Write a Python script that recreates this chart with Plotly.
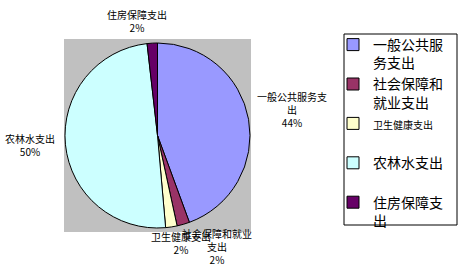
import plotly.graph_objects as go

categories = ["一般公共服务支出", "社会保障和就业支出", "卫生健康支出", "农林水支出", "住房保障支出"]
values = [44.4, 2.2, 2.0, 49.6, 1.8]
colors = ["#9999FF", "#993366", "#FFFFCC", "#CCFFFF", "#660066"]
legend_names = ["一般公共服<br>务支出", "社会保障和<br>就业支出",
                "<span style='font-size:10px'>卫生健康支出</span><br> ", "农林水支出<br> ", "住房保障支<br>出"]
label_text = ["一般公共服务支<br>出", "社会保障和就业<br>支出", "卫生健康支出", "农林水支出", "住房保障支出"]
# label centres in pixels (layout only)
label_pos = [(292, 110), (217, 246), (181, 243), (30, 145), (137, 21)]

W, H = 467, 266
total = sum(values)
pcts = [round(v / total * 100) for v in values]

fig = go.Figure()
fig.add_trace(go.Pie(
    labels=legend_names, values=values, sort=False, direction="clockwise", rotation=0,
    marker=dict(colors=colors, line=dict(color="black", width=1)),
    textinfo="none", hoverinfo="none",
    domain=dict(x=[65 / W, 250 / W], y=[(H - 228) / H, (H - 43) / H]),
))

annotations = []
for txt, p, (x, y) in zip(label_text, pcts, label_pos):
    annotations.append(dict(
        text=f"{txt}<br>{p}%", x=x / W, y=1 - y / H, xref="paper", yref="paper",
        showarrow=False, xanchor="center", yanchor="middle",
        font=dict(family="Noto Sans CJK SC", size=10, color="black"), align="center"))

fig.update_layout(
    width=W, height=H, margin=dict(l=0, r=0, t=0, b=0),
    paper_bgcolor="white", plot_bgcolor="white",
    shapes=[
        dict(type="rect", xref="paper", yref="paper", x0=64 / W, x1=251 / W,
             y0=1 - 232 / H, y1=1 - 39 / H, fillcolor="#C0C0C0", line=dict(width=0), layer="below"),
        dict(type="rect", xref="paper", yref="paper", x0=344 / W, x1=457 / W,
             y0=1 - 225 / H, y1=1 - 34 / H, fillcolor="white", line=dict(color="black", width=1), layer="below"),
    ],
    annotations=annotations,
    legend=dict(x=333 / W, y=1 - 29 / H, xanchor="left", yanchor="top",
                borderwidth=0, bgcolor="rgba(0,0,0,0)", valign="top",
                font=dict(family="Noto Sans CJK SC", size=14, color="black"),
                itemwidth=30, tracegroupgap=0),
    showlegend=True,
)
fig.write_html("out.html")
